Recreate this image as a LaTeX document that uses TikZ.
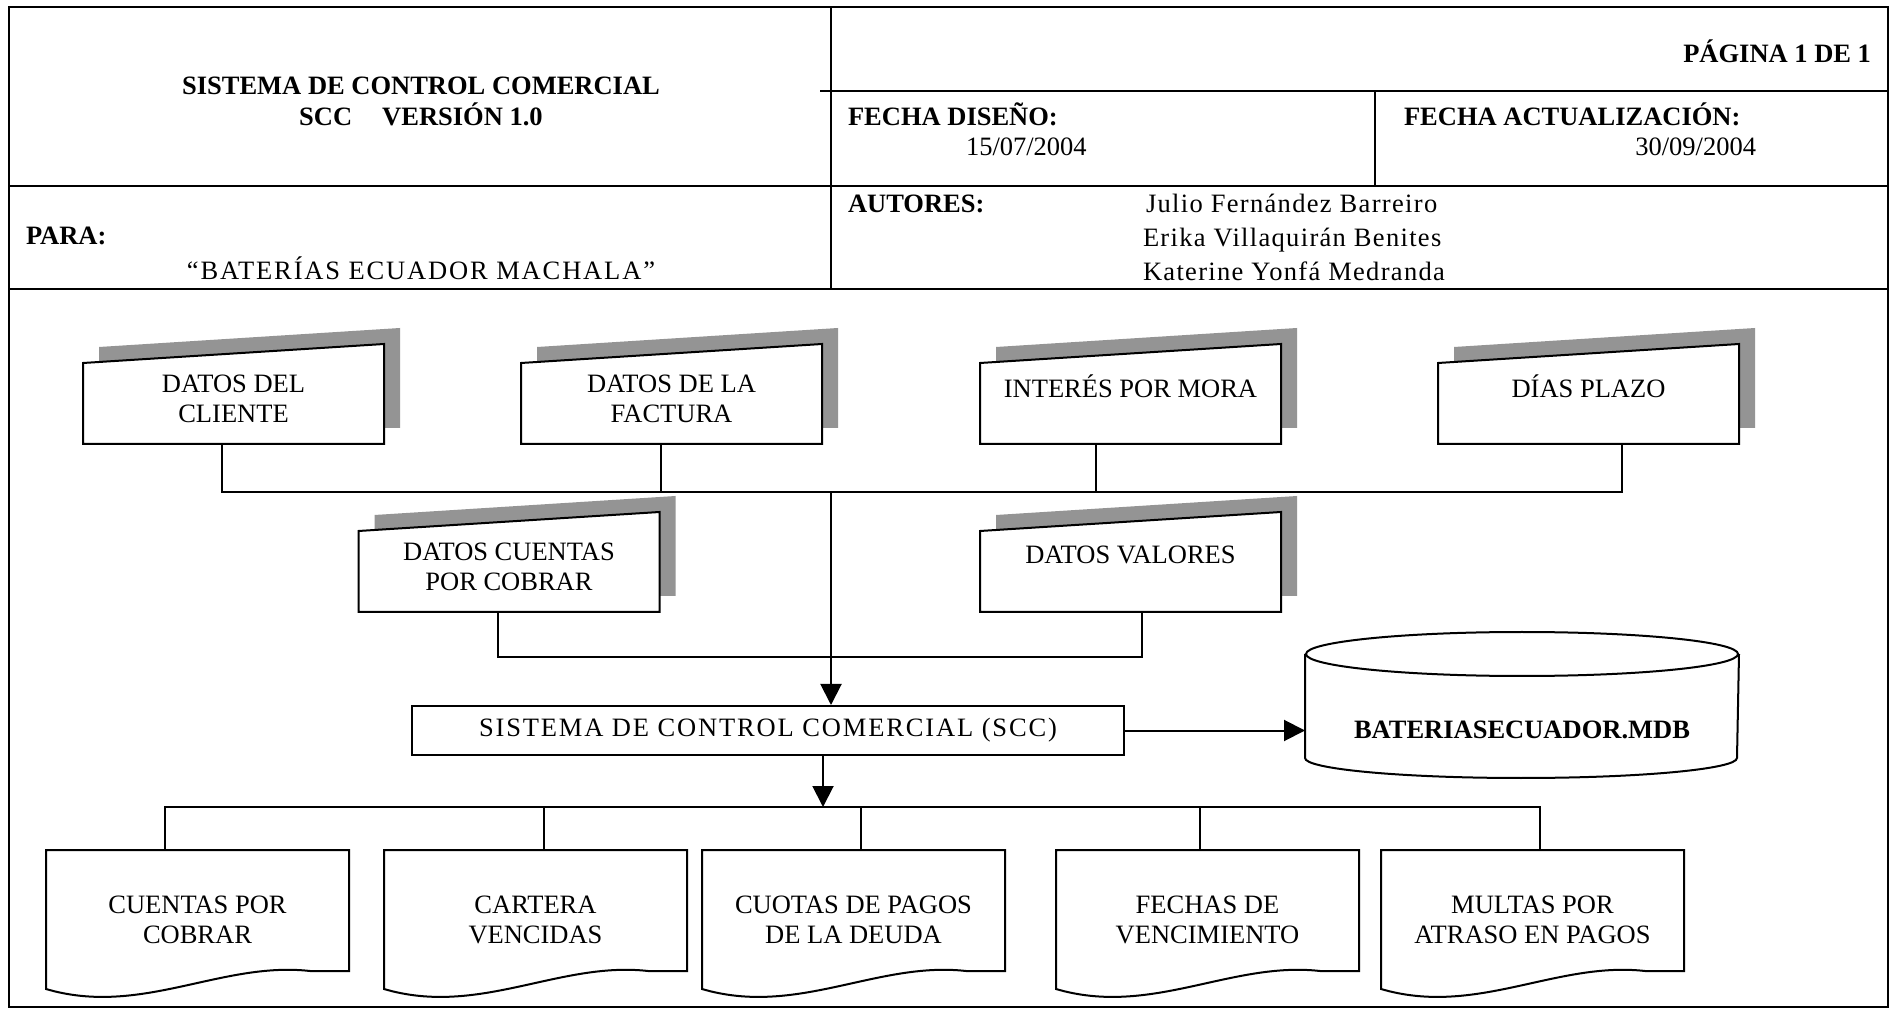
\documentclass[tikz,border=0pt]{standalone}
\usepackage{fontspec}
\setmainfont{Liberation Serif}
\usetikzlibrary{arrows.meta}

\begin{document}
\begin{tikzpicture}[x=0.5pt,y=-0.5pt,line width=1pt]

    \tikzset{
      texto/.style={
        font=\fontsize{13.25}{15}\selectfont,
        inner sep=0pt,
      },
      negrita/.style={
        texto,
        font=\fontsize{13.25}{15}\selectfont\bfseries,
      },
      espaciado/.style={
        texto,
        font=\fontsize{13.25}{15}\selectfont\addfontfeature{LetterSpace=7},
      },
      nombre/.style={
        texto,
        anchor=base west,
        font=\fontsize{13.25}{15}\selectfont\addfontfeature{LetterSpace=5},
      },
      caja/.style={
        texto,
        align=center,
        anchor=north,
        execute at begin node=\strut,
      },
      entrada/.style={
        minimum width=149.5pt,
        minimum height=49pt,
        inner sep=0pt,
      },
      salida/.style={
        minimum width=150.5pt,
        minimum height=68.5pt,
        inner sep=0pt,
      },
      sombra/.style={
        fill=black!42,
        draw=none,
      },
      flecha/.style={
        -{Triangle[length=10.5pt,width=10.5pt]},
      },
    }
    \path[use as bounding box, fill=white] (0,0) rectangle (1892,1010);

    % marco de la hoja
    \draw (9,7) rectangle (1888,1007);
    \draw (9,186) -- (1888,186);
    \draw (9,289) -- (1888,289);
    \draw (831,7) -- (831,289);
    \draw (820,91) -- (1888,91);
    \draw (1375,91) -- (1375,186);

    \node[negrita, anchor=base] (titulo) at (421,95) {SISTEMA DE CONTROL COMERCIAL};
    \node[negrita, anchor=base] (version) at (421,126) {SCC\hspace{15pt}VERSIÓN 1.0};
    \node[negrita, anchor=base west] (para) at (25,245) {PARA:};
    \node[espaciado, anchor=base] (empresa) at (421,280) {“BATERÍAS ECUADOR MACHALA”};
    \node[negrita, anchor=base east] (pagina) at (1872,63) {PÁGINA 1 DE 1};
    \node[negrita, anchor=base west] (fdiseno) at (847,126) {FECHA DISEÑO:};
    \node[texto, anchor=base west] (fdisenov) at (965,156) {15/07/2004};
    \node[negrita, anchor=base west] (factual) at (1403,126) {FECHA ACTUALIZACIÓN:};
    \node[texto, anchor=base east] (factualv) at (1757,156) {30/09/2004};
    \node[negrita, anchor=base west] (autores) at (847,213) {AUTORES:};
    \node[nombre] (autor1) at (1145,213) {Julio Fernández Barreiro};
    \node[nombre] (autor2) at (1142,247) {Erika Villaquirán Benites};
    \node[nombre] (autor3) at (1142,281) {Katerine Yonfá Medranda};

    % datos de entrada
    \node[entrada] (dcliente) at (233.5,394) {};
    \node[entrada] (dfactura) at (671.5,394) {};
    \node[entrada] (dmora) at (1130.5,394) {};
    \node[entrada] (dplazo) at (1588.5,394) {};
    \node[entrada] (dcuentas) at (509,562) {};
    \node[entrada] (dvalores) at (1130.5,562) {};
    \foreach \n in {dcliente,dfactura,dmora,dplazo,dcuentas,dvalores}{
      \fill[sombra] ([shift={(16,-16)}]\n.south west) -- ([shift={(16,-16)}]\n.south east)
        -- ([shift={(16,-16)}]\n.north east) -- ([shift={(16,3)}]\n.north west) -- cycle;
      \draw[fill=white] (\n.south west) -- (\n.south east) -- (\n.north east)
        -- ([shift={(0,19)}]\n.north west) -- cycle;
    }
    \node[caja] (dcliente-t) at ([yshift=-15pt]dcliente.north) {DATOS DEL\\CLIENTE};
    \node[caja] (dfactura-t) at ([yshift=-15pt]dfactura.north) {DATOS DE LA\\FACTURA};
    \node[caja] (dmora-t) at ([yshift=-15pt]dmora.north) {INTERÉS POR MORA};
    \node[caja] (dplazo-t) at ([yshift=-15pt]dplazo.north) {DÍAS PLAZO};
    \node[caja] (dcuentas-t) at ([yshift=-15pt]dcuentas.north) {DATOS CUENTAS\\POR COBRAR};
    \node[caja] (dvalores-t) at ([yshift=-15pt]dvalores.north) {DATOS VALORES};

    % sistema y base de datos
    \node[espaciado, draw, minimum width=356pt, minimum height=24.5pt] (scc) at (768,730.5)
      {SISTEMA DE CONTROL COMERCIAL (SCC)};
    \node[minimum width=216pt, minimum height=72pt, inner sep=0pt] (bd) at (1522,705) {};
    \draw ([shift={(0,22)}]bd.north west) -- ([shift={(0,-20)}]bd.south west)
      arc[start angle=180, end angle=360, x radius=108pt, y radius=10pt]
      -- ([shift={(0,22)}]bd.north east);
    \draw ([shift={(0,22)}]bd.north) ellipse [x radius=108pt, y radius=11pt];
    \node[negrita] (bd-t) at ([yshift=-12.5pt]bd.center) {BATERIASECUADOR.MDB};

    % reportes
    \node[salida] (rcuentas) at (197.5,919.5) {};
    \node[salida] (rcartera) at (535.5,919.5) {};
    \node[salida] (rcuotas) at (853.5,919.5) {};
    \node[salida] (rfechas) at (1207.5,919.5) {};
    \node[salida] (rmultas) at (1532.5,919.5) {};
    \foreach \n in {rcuentas,rcartera,rcuotas,rfechas,rmultas}{
      \draw (\n.north west) -- (\n.north east) -- ([shift={(0,-18)}]\n.south east)
        -- ([shift={(-39,-18)}]\n.south east)
        .. controls ([shift={(-128,-28)}]\n.south east) and ([shift={(-208,28)}]\n.south east)
        .. (\n.south west) -- cycle;
    }
    \node[caja] (rcuentas-t) at ([yshift=-22.5pt]rcuentas.north) {CUENTAS POR\\COBRAR};
    \node[caja] (rcartera-t) at ([yshift=-22.5pt]rcartera.north) {CARTERA\\VENCIDAS};
    \node[caja] (rcuotas-t) at ([yshift=-22.5pt]rcuotas.north) {CUOTAS DE PAGOS\\DE LA DEUDA};
    \node[caja] (rfechas-t) at ([yshift=-22.5pt]rfechas.north) {FECHAS DE\\VENCIMIENTO};
    \node[caja] (rmultas-t) at ([yshift=-22.5pt]rmultas.north) {MULTAS POR\\ATRASO EN PAGOS};

    % conectores
    \coordinate (s1) at (222,492);
    \coordinate (s2) at (661,492);
    \coordinate (s3) at (1096,492);
    \coordinate (s4) at (1622,492);
    \coordinate (e1) at (831,492);
    \draw (s1 |- dcliente.south) -- (s1) -- (s4) -- (s4 |- dplazo.south);
    \draw (s2 |- dfactura.south) -- (s2);
    \draw (s3 |- dmora.south) -- (s3);
    \coordinate (c1) at (498,657);
    \coordinate (c2) at (1142,657);
    \draw (c1 |- dcuentas.south) -- (c1) -- (c2) -- (c2 |- dvalores.south);
    \draw[flecha] (e1) -- (e1 |- scc.north);
    \draw[flecha] (scc.east) -- (scc.east -| bd.west);
    \coordinate (e2) at (823,807);
    \draw[flecha] (e2 |- scc.south) -- (e2);
    \coordinate (o1) at (165,807);
    \coordinate (o2) at (544,807);
    \coordinate (o3) at (861,807);
    \coordinate (o4) at (1200,807);
    \coordinate (o5) at (1540,807);
    \draw (o1 |- rcuentas.north) -- (o1) -- (o5) -- (o5 |- rmultas.north);
    \draw (o2) -- (o2 |- rcartera.north);
    \draw (o3) -- (o3 |- rcuotas.north);
    \draw (o4) -- (o4 |- rfechas.north);

\end{tikzpicture}
\end{document}
